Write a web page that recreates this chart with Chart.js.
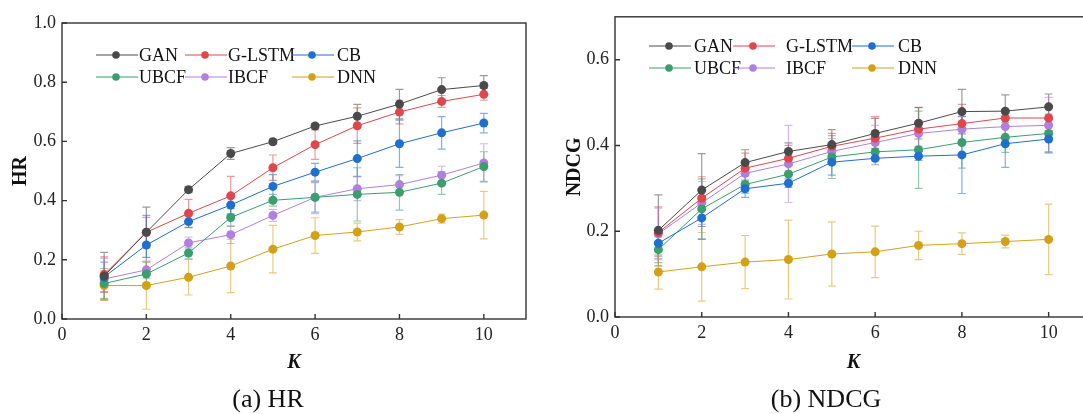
<!DOCTYPE html>
<html>
<head>
<meta charset="utf-8">
<script src="https://cdn.jsdelivr.net/npm/chart.js@4.4.1/dist/chart.umd.min.js"></script>
<style>
    body { margin: 0; width: 1083px; height: 414px; overflow: hidden; background: #fff; position: relative; }
    .box { position: absolute; top: 0; height: 414px; }
    #leftBox { left: 0; width: 545px; }
    #rightBox { left: 545px; width: 565px; }
</style>
</head>
<body>
<div id="leftBox" class="box"><canvas id="hrChart"></canvas></div>
<div id="rightBox" class="box"><canvas id="ndcgChart"></canvas></div>
<script>
const K = [1, 2, 3, 4, 5, 6, 7, 8, 9, 10];
const NAMES = ['GAN', 'G-LSTM', 'CB', 'UBCF', 'IBCF', 'DNN'];
const COLORS = ['#4a4a4a', '#e0474c', '#1e6fd0', '#3a9e6e', '#b07fe0', '#d4a017'];

// HR values
const hrGAN   = [0.145, 0.293, 0.437, 0.559, 0.599, 0.652, 0.685, 0.726, 0.775, 0.789];
const hrGLSTM = [0.150, 0.293, 0.357, 0.416, 0.511, 0.589, 0.653, 0.699, 0.735, 0.759];
const hrCB    = [0.142, 0.250, 0.329, 0.385, 0.448, 0.496, 0.542, 0.592, 0.629, 0.662];
const hrUBCF  = [0.120, 0.152, 0.223, 0.343, 0.401, 0.411, 0.421, 0.428, 0.459, 0.515];
const hrIBCF  = [0.135, 0.166, 0.257, 0.285, 0.350, 0.411, 0.440, 0.454, 0.486, 0.527];
const hrDNN   = [0.113, 0.113, 0.141, 0.179, 0.236, 0.282, 0.294, 0.311, 0.339, 0.351];

// HR error bars (half width)
const hrErrGAN   = [0.080, 0.085, 0.010, 0.020, 0.008, 0.008, 0.040, 0.050, 0.040, 0.033];
const hrErrGLSTM = [0.060, 0.050, 0.047, 0.066, 0.043, 0.050, 0.060, 0.040, 0.020, 0.020];
const hrErrCB    = [0.050, 0.100, 0.020, 0.030, 0.040, 0.030, 0.060, 0.080, 0.055, 0.033];
const hrErrUBCF  = [0.050, 0.040, 0.020, 0.030, 0.020, 0.050, 0.090, 0.060, 0.038, 0.050];
const hrErrIBCF  = [0.070, 0.030, 0.020, 0.030, 0.020, 0.055, 0.040, 0.030, 0.030, 0.065];
const hrErrDNN   = [0.050, 0.080, 0.060, 0.090, 0.080, 0.060, 0.030, 0.025, 0.015, 0.080];

// NDCG values
const ndGAN   = [0.202, 0.296, 0.360, 0.386, 0.402, 0.428, 0.452, 0.479, 0.480, 0.490];
const ndGLSTM = [0.197, 0.277, 0.347, 0.370, 0.398, 0.417, 0.438, 0.451, 0.464, 0.464];
const ndCB    = [0.172, 0.231, 0.299, 0.312, 0.361, 0.370, 0.375, 0.378, 0.404, 0.415];
const ndUBCF  = [0.157, 0.252, 0.309, 0.333, 0.373, 0.385, 0.390, 0.407, 0.419, 0.428];
const ndIBCF  = [0.194, 0.266, 0.335, 0.357, 0.386, 0.407, 0.428, 0.438, 0.444, 0.447];
const ndDNN   = [0.105, 0.117, 0.128, 0.134, 0.147, 0.152, 0.167, 0.171, 0.176, 0.181];

// NDCG error bars
const ndErrGAN   = [0.083, 0.085, 0.030, 0.020, 0.035, 0.035, 0.037, 0.052, 0.038, 0.030];
const ndErrGLSTM = [0.060, 0.050, 0.035, 0.030, 0.030, 0.050, 0.050, 0.045, 0.020, 0.030];
const ndErrCB    = [0.030, 0.050, 0.020, 0.010, 0.030, 0.015, 0.010, 0.090, 0.055, 0.030];
const ndErrUBCF  = [0.030, 0.070, 0.020, 0.020, 0.050, 0.020, 0.090, 0.060, 0.035, 0.045];
const ndErrIBCF  = [0.060, 0.050, 0.030, 0.090, 0.030, 0.040, 0.030, 0.030, 0.030, 0.065];
const ndErrDNN   = [0.040, 0.080, 0.062, 0.092, 0.075, 0.060, 0.033, 0.025, 0.015, 0.082];

Chart.defaults.font.family = "'Liberation Serif', 'DejaVu Serif', serif";
Chart.defaults.font.size = 18;
Chart.defaults.color = '#222';

function hexAlpha(hex, a) {
    const n = parseInt(hex.slice(1), 16);
    return `rgba(${n >> 16}, ${(n >> 8) & 255}, ${n & 255}, ${a})`;
}

function makeDatasets(values, errors) {
    return values.map((vals, i) => ({
        label: NAMES[i],
        data: K.map((k, j) => ({ x: k, y: vals[j] })),
        err: errors[i],
        borderColor: COLORS[i],
        backgroundColor: COLORS[i],
        pointBackgroundColor: COLORS[i],
        pointBorderColor: COLORS[i],
        borderWidth: 1,
        pointRadius: 4.5,
        pointBorderWidth: 0,
        tension: 0
    }));
}

// error bars under the lines
const errorBars = {
    id: 'errorBars',
    beforeDatasetsDraw(chart) {
        const ctx = chart.ctx;
        const ys = chart.scales.y;
        ctx.save();
        ctx.lineWidth = 1.2;
        chart.data.datasets.forEach((ds, i) => {
            const meta = chart.getDatasetMeta(i);
            ctx.strokeStyle = hexAlpha(COLORS[i], 0.55);
            meta.data.forEach((pt, j) => {
                const v = ds.data[j].y, e = ds.err[j];
                const top = ys.getPixelForValue(v + e);
                const bot = ys.getPixelForValue(v - e);
                ctx.beginPath();
                ctx.moveTo(pt.x, top); ctx.lineTo(pt.x, bot);
                ctx.moveTo(pt.x - 4, top); ctx.lineTo(pt.x + 4, top);
                ctx.moveTo(pt.x - 4, bot); ctx.lineTo(pt.x + 4, bot);
                ctx.stroke();
            });
        });
        ctx.restore();
    }
};

// frame, inward ticks, titles, caption and legend
const decor = {
    id: 'decor',
    afterDraw(chart, args, opts) {
        const ctx = chart.ctx;
        const a = chart.chartArea;
        const xs = chart.scales.x, ys = chart.scales.y;
        ctx.save();
        ctx.strokeStyle = '#333';
        ctx.lineWidth = 1.4;
        ctx.strokeRect(a.left, a.top, a.right - a.left, a.bottom - a.top);

        ctx.beginPath();
        xs.ticks.forEach(t => {
            const x = xs.getPixelForValue(t.value);
            ctx.moveTo(x, a.bottom); ctx.lineTo(x, a.bottom - 5);
        });
        ys.ticks.forEach(t => {
            const y = ys.getPixelForValue(t.value);
            ctx.moveTo(a.left, y); ctx.lineTo(a.left + 5, y);
        });
        ctx.stroke();

        ctx.fillStyle = '#111';
        ctx.textAlign = 'center';
        ctx.textBaseline = 'middle';
        ctx.font = "bold 20px 'Liberation Serif'";
        ctx.save();
        ctx.translate(opts.yTitleX, (a.top + a.bottom) / 2);
        ctx.rotate(-Math.PI / 2);
        ctx.fillText(opts.yTitle, 0, 0);
        ctx.restore();

        ctx.font = "italic bold 20px 'Liberation Serif'";
        ctx.fillText('K', (a.left + a.right) / 2, 363);

        ctx.font = "26px 'Liberation Serif'";
        ctx.fillText(opts.caption, opts.captionX, 400);

        // legend, 3 columns x 2 rows
        ctx.font = "18px 'Liberation Serif'";
        ctx.textAlign = 'left';
        NAMES.forEach((name, i) => {
            const col = i % 3, row = Math.floor(i / 3);
            const x0 = opts.legendLine[col];
            const y = opts.legendRows[row];
            ctx.strokeStyle = COLORS[i];
            ctx.lineWidth = 1;
            ctx.beginPath();
            ctx.moveTo(x0, y); ctx.lineTo(x0 + 42, y);
            ctx.stroke();
            ctx.fillStyle = COLORS[i];
            ctx.beginPath();
            ctx.arc(x0 + 20, y, 3.8, 0, Math.PI * 2);
            ctx.fill();
            ctx.fillStyle = '#111';
            ctx.fillText(name, opts.legendText[col], y + 1);
        });
        ctx.restore();
    }
};

function buildChart(canvasId, datasets, cfg) {
    return new Chart(document.getElementById(canvasId), {
        type: 'line',
        data: { datasets: datasets },
        plugins: [errorBars, decor],
        options: {
            responsive: true,
            maintainAspectRatio: false,
            animation: false,
            layout: { padding: { top: cfg.top, right: cfg.right, left: 0, bottom: 0 } },
            plugins: {
                legend: { display: false },
                tooltip: { enabled: false },
                decor: cfg.decor
            },
            scales: {
                x: {
                    type: 'linear',
                    min: 0, max: 11,
                    grid: { display: false, drawTicks: false },
                    border: { display: false },
                    ticks: { stepSize: 2, includeBounds: false, padding: 5, maxRotation: 0 },
                    afterFit(s) { s.height = cfg.xHeight; }
                },
                y: {
                    min: 0, max: cfg.yMax,
                    grid: { display: false, drawTicks: false },
                    border: { display: false },
                    ticks: { stepSize: 0.2, includeBounds: false, padding: 6, callback: v => v.toFixed(1) },
                    afterFit(s) { s.width = cfg.yWidth; }
                }
            }
        }
    });
}

buildChart('hrChart',
    makeDatasets([hrGAN, hrGLSTM, hrCB, hrUBCF, hrIBCF, hrDNN],
                 [hrErrGAN, hrErrGLSTM, hrErrCB, hrErrUBCF, hrErrIBCF, hrErrDNN]),
    {
        top: 23, right: 19, xHeight: 95, yWidth: 62, yMax: 1.0,
        decor: {
            yTitle: 'HR', yTitleX: 21, caption: '(a) HR', captionX: 268,
            legendRows: [55, 77], legendLine: [96, 185, 292], legendText: [139, 228, 337]
        }
    });

buildChart('ndcgChart',
    makeDatasets([ndGAN, ndGLSTM, ndCB, ndUBCF, ndIBCF, ndDNN],
                 [ndErrGAN, ndErrGLSTM, ndErrCB, ndErrUBCF, ndErrIBCF, ndErrDNN]),
    {
        top: 12, right: 18, xHeight: 97, yWidth: 70, yMax: 0.7,
        decor: {
            yTitle: 'NDCG', yTitleX: 30, caption: '(b) NDCG', captionX: 281,
            legendRows: [46, 68], legendLine: [104, 188, 307], legendText: [149, 241, 353]
        }
    });
</script>
</body>
</html>
